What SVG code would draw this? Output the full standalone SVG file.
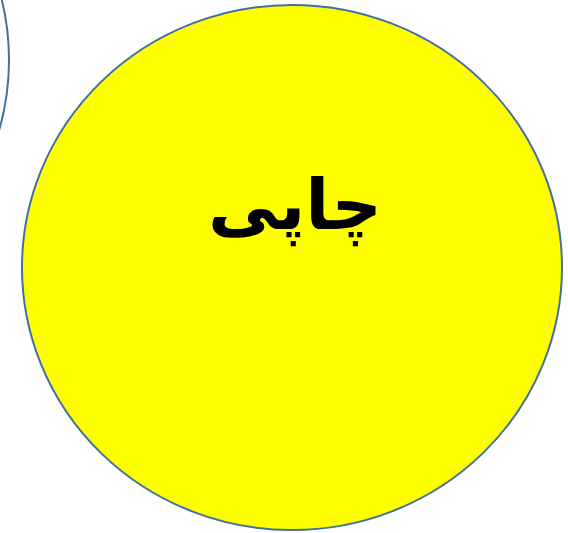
<svg xmlns="http://www.w3.org/2000/svg" width="568" height="533" viewBox="0 0 568 533">
<style>
.shape{fill:#FFFF00;stroke:#41719C;stroke-width:2}
.outline{fill:none;stroke:#41719C;stroke-width:2}
.label{font-family:"DejaVu Sans","Noto Sans",sans-serif;font-weight:bold;font-size:70px;fill:#000000}
</style>
<rect width="568" height="533" fill="#FFFFFF"/>
<g id="node-left">
<ellipse class="outline" cx="-261" cy="60" rx="270" ry="262"/>
</g>
<g id="node-chapi">
<ellipse class="shape" cx="292" cy="267.5" rx="270" ry="262.5"/>
<text class="label" x="295" y="229" text-anchor="middle" direction="rtl">چاپی</text>
</g>
</svg>
